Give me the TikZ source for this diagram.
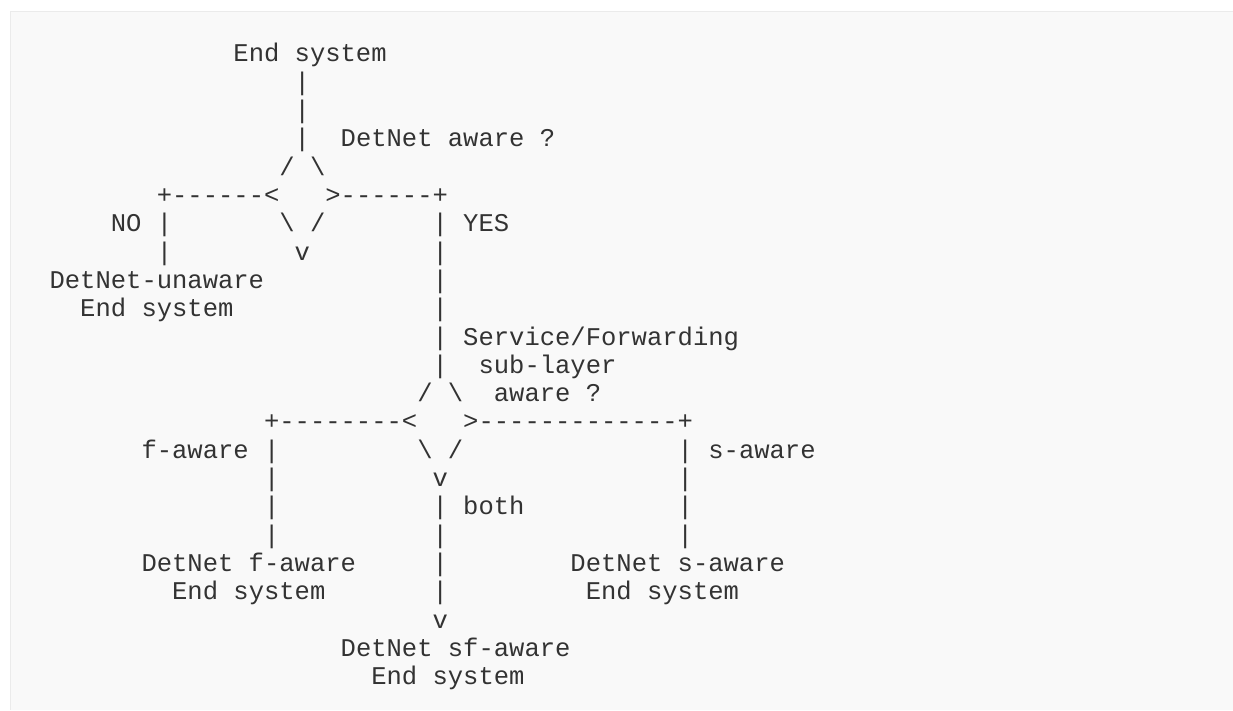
\documentclass[tikz,border=0pt]{standalone}
\usepackage{fontspec}
\newfontfamily\asciifont[Ligatures=TeXOff]{Liberation Mono}
\definecolor{ink}{HTML}{333333}
\definecolor{codebg}{HTML}{F9F9F9}
\definecolor{codeframe}{HTML}{EBEBEB}
\tikzstyle{every node}=[font=\asciifont\fontsize{25.53}{28.33}\selectfont]
\tikzstyle{ascii}=[anchor=base west,inner sep=0pt,text=ink]
% #1 name, #2 column, #3 line, #4 characters
\newcommand{\chars}[4]{\node[ascii] (#1) at ({49.4+15.32*#2},{61.7+28.33*(#3-1)}) {#4};}
\newcommand{\bs}{\textbackslash}

\begin{document}
\begin{tikzpicture}[x=1pt,y=-1pt]
    \useasboundingbox (0,0) rectangle (1233,710);
    \fill[codebg] (10,11) rectangle (1233,710);
    \draw[codeframe,line width=1.5pt] (10.5,710) -- (10.5,11.5) -- (1233,11.5);
    % DetNet aware ?
    \chars{es}{12}{1}{End system}
    \chars{b2}{16}{2}{|}
    \chars{b3}{16}{3}{|}
    \chars{b4}{16}{4}{|}
    \chars{qa}{19}{4}{DetNet aware ?}
    \chars{da1}{15}{5}{/ \bs}
    \chars{la}{7}{6}{+------<}
    \chars{ra}{18}{6}{>------+}
    \chars{no}{4}{7}{NO |}
    \chars{da2}{15}{7}{\bs{} /}
    \chars{yes}{25}{7}{| YES}
    \chars{b8l}{7}{8}{|}
    \chars{va}{16}{8}{v}
    \chars{b8r}{25}{8}{|}
    \chars{un1}{0}{9}{DetNet-unaware}
    \chars{b9}{25}{9}{|}
    \chars{un2}{2}{10}{End system}
    \chars{b10}{25}{10}{|}
    % Service/Forwarding sub-layer aware ?
    \chars{qb1}{25}{11}{| Service/Forwarding}
    \chars{b12}{25}{12}{|}
    \chars{qb2}{28}{12}{sub-layer}
    \chars{db1}{24}{13}{/ \bs}
    \chars{qb3}{29}{13}{aware ?}
    \chars{lb}{14}{14}{+--------<}
    \chars{rb}{27}{14}{>-------------+}
    \chars{fa}{6}{15}{f-aware |}
    \chars{db2}{24}{15}{\bs{} /}
    \chars{sa}{41}{15}{| s-aware}
    \chars{b16l}{14}{16}{|}
    \chars{vb}{25}{16}{v}
    \chars{b16r}{41}{16}{|}
    \chars{b17l}{14}{17}{|}
    \chars{both}{25}{17}{| both}
    \chars{b17r}{41}{17}{|}
    \chars{b18l}{14}{18}{|}
    \chars{b18m}{25}{18}{|}
    \chars{b18r}{41}{18}{|}
    \chars{f1}{6}{19}{DetNet f-aware}
    \chars{b19}{25}{19}{|}
    \chars{s1}{34}{19}{DetNet s-aware}
    \chars{f2}{8}{20}{End system}
    \chars{b20}{25}{20}{|}
    \chars{s2}{35}{20}{End system}
    \chars{vc}{25}{21}{v}
    \chars{sf1}{19}{22}{DetNet sf-aware}
    \chars{sf2}{21}{23}{End system}
\end{tikzpicture}
\end{document}
